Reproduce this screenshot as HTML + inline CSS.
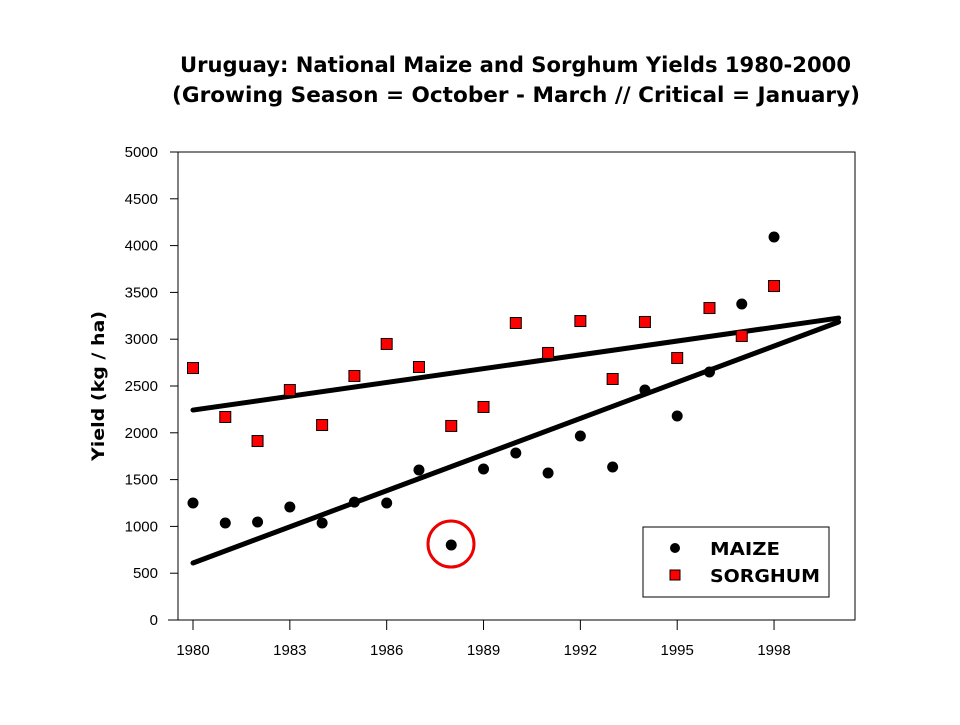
<!DOCTYPE html>
<html><head><meta charset="utf-8"><style>
body{margin:0;background:#fff;width:960px;height:720px;overflow:hidden}
.sans{font-family:"Liberation Sans",sans-serif}
.dv{font-family:"DejaVu Sans",sans-serif;font-weight:bold}
</style></head><body>
<svg id="chart" width="960" height="720" xmlns="http://www.w3.org/2000/svg">
<text class="dv" x="180" y="72" font-size="21" textLength="671" lengthAdjust="spacingAndGlyphs">Uruguay:  National Maize and Sorghum Yields 1980-2000</text>
<text class="dv" x="172" y="102" font-size="21" textLength="688" lengthAdjust="spacingAndGlyphs">(Growing Season = October - March //  Critical = January)</text>
<rect x="178" y="152" width="677" height="468" fill="none" stroke="#000" stroke-width="1"/>
<text class="dv" transform="translate(104,386) rotate(-90)" text-anchor="middle" font-size="17" textLength="150" lengthAdjust="spacingAndGlyphs">Yield (kg / ha)</text>
<g id="axes" class="sans"></g><g id="marks"></g>
<g>
<rect x="643" y="527" width="186" height="70" fill="#fff" stroke="#000"/>
<circle cx="675" cy="548" r="5" fill="#000"/>
<text class="dv" x="710" y="555" font-size="18" textLength="70" lengthAdjust="spacingAndGlyphs">MAIZE</text>
<rect x="670" y="570" width="10" height="10" fill="#f00" stroke="#000"/>
<text class="dv" x="710" y="582" font-size="18" textLength="110" lengthAdjust="spacingAndGlyphs">SORGHUM</text>
</g>
<circle cx="451" cy="544" r="23" fill="none" stroke="#e00" stroke-width="3"/>
</svg>
<script>
const years=[1980,1981,1982,1983,1984,1985,1986,1987,1988,1989,1990,1991,1992,1993,1994,1995,1996,1997,1998];
const maize=[1250,1036,1047,1207,1036,1260,1250,1603,801,1613,1784,1570,1966,1635,2457,2180,2650,3376,4092];
const sorghum=[2692,2169,1912,2457,2083,2607,2949,2703,2073,2276,3173,2853,3194,2575,3184,2799,3333,3034,3568];
const maizeTrend=[[1980,609],[2000,3184]];
const sorghumTrend=[[1980,2243],[2000,3226]];
const yTicks=[0,500,1000,1500,2000,2500,3000,3500,4000,4500,5000];
const xTicks=[1980,1983,1986,1989,1992,1995,1998];
const X=y=>193+(y-1980)*32.28, Y=v=>620-v*0.0936;
const NS="http://www.w3.org/2000/svg";
const ax=document.getElementById('axes'), mk=document.getElementById('marks');
function mkEl(t,a,p){const e=document.createElementNS(NS,t);for(const k in a)e.setAttribute(k,a[k]);p.appendChild(e);return e;}
yTicks.forEach(v=>{
 const l=mkEl('line',{x1:170,x2:178,y1:Y(v),y2:Y(v),stroke:'#000'},ax);
 
 
 const t=mkEl('text',{x:158,y:Y(v)+5,'text-anchor':'end','font-size':15},ax);t.textContent=v;
 
 
});
mkEl('line',{x1:168,x2:855,y1:620,y2:620,stroke:'#000'},ax);
xTicks.forEach(v=>{
 const l=mkEl('line',{x1:X(v),x2:X(v),y1:620,y2:630,stroke:'#000'},ax);
 
 
 const t=mkEl('text',{x:X(v),y:655,'text-anchor':'middle','font-size':15},ax);t.textContent=v;
 
 
});
[maizeTrend,sorghumTrend].forEach((tr,i)=>{
 const l=mkEl('line',{x1:X(tr[0][0]),y1:Y(tr[0][1]),x2:X(tr[1][0]),y2:Y(tr[1][1]),stroke:'#000','stroke-width':5,'stroke-linecap':'round'},mk);
 
 
});
years.forEach((y,i)=>{
 const r=mkEl('rect',{x:X(y)-5.5,y:Y(sorghum[i])-5.5,width:11,height:11,fill:'#f00',stroke:'#000'},mk);
 
 
 const c=mkEl('circle',{cx:X(y),cy:Y(maize[i]),r:5.5,fill:'#000'},mk);
 
 
});
</script>
</body></html>
